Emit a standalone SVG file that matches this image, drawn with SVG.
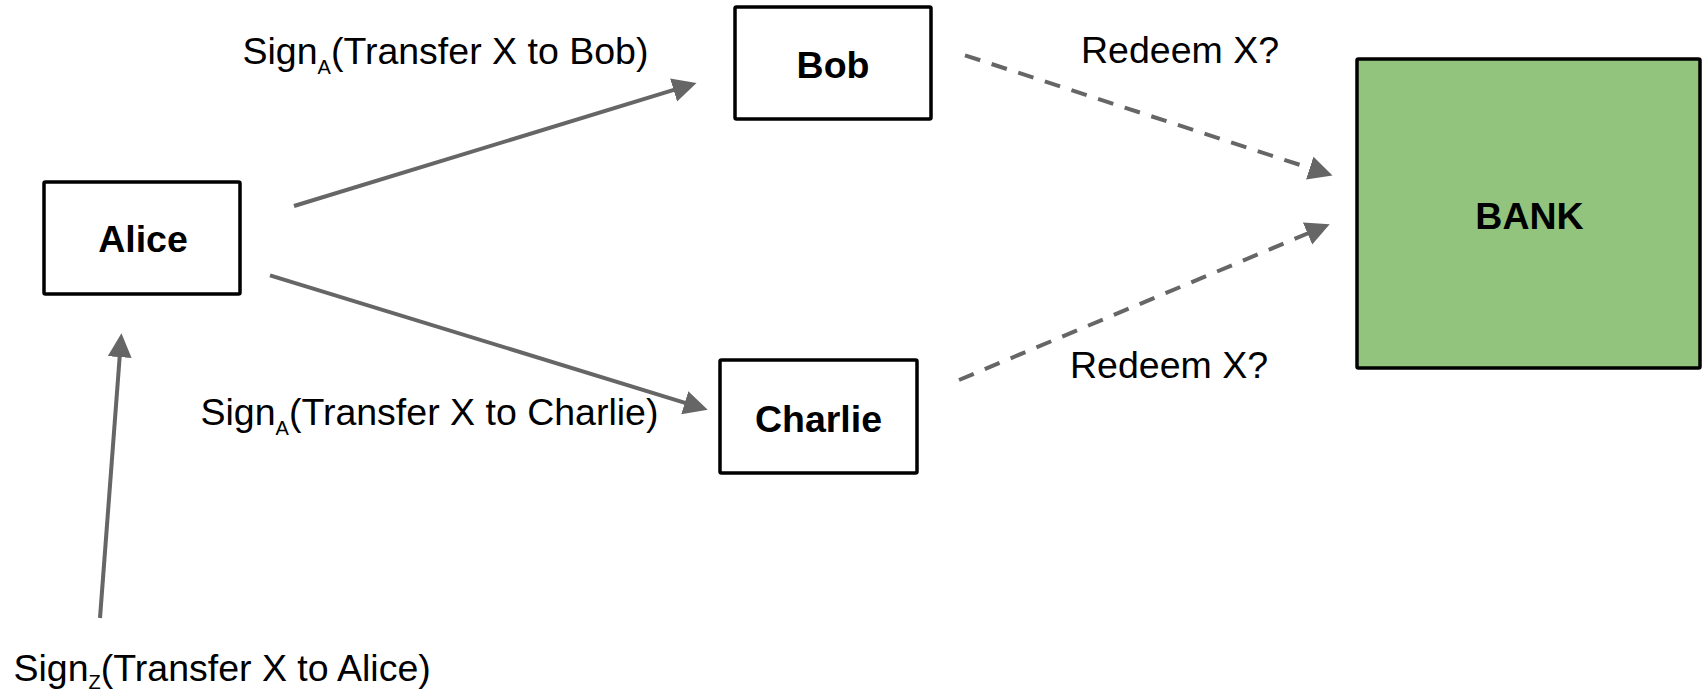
<svg xmlns="http://www.w3.org/2000/svg" width="1706" height="692" viewBox="0 0 1706 692">
<style>
.box{fill:#ffffff;stroke:#000000;stroke-width:3.5;}
.bank{fill:#93c47d;stroke:#000000;stroke-width:3.5;}
.lbl{font-family:"Liberation Sans",Arial,sans-serif;font-weight:bold;font-size:37.5px;fill:#000000;text-anchor:middle;}
.txt{font-family:"Liberation Sans",Arial,sans-serif;font-size:37.5px;fill:#000000;}
.sub{font-size:20px;}
.edge{fill:none;stroke:#666666;stroke-width:4;marker-end:url(#ah);}
.dash{stroke-dasharray:16 12;}
</style>
<defs>
<marker id="ah" markerUnits="userSpaceOnUse" markerWidth="26" markerHeight="26" refX="2" refY="12" orient="auto">
<path d="M0,0 L24,12 L0,24 Z" fill="#666666"/>
</marker>
</defs>
<rect width="1706" height="692" fill="#ffffff"/>
<g id="connectors">
<line class="edge" x1="294" y1="206" x2="675.5" y2="89.4"/>
<line class="edge" x1="270" y1="275.3" x2="686.7" y2="403.3"/>
<line class="edge" x1="100" y1="618" x2="119.8" y2="355.1"/>
<line class="edge dash" x1="965" y1="55.3" x2="1311.6" y2="168.7"/>
<line class="edge dash" x1="959" y1="380" x2="1309.4" y2="232.7"/>
</g>
<g id="alice">
<rect class="box" x="44" y="182" width="196" height="112" rx="1.5"/>
<text class="lbl" x="143" y="252">Alice</text>
</g>
<g id="bob">
<rect class="box" x="735" y="7" width="196" height="112" rx="1.5"/>
<text class="lbl" x="833" y="77.5">Bob</text>
</g>
<g id="charlie">
<rect class="box" x="720" y="360" width="197" height="113" rx="1.5"/>
<text class="lbl" x="818.5" y="431.5">Charlie</text>
</g>
<g id="bank">
<rect class="bank" x="1357" y="59" width="343" height="309" rx="1.5"/>
<text class="lbl" x="1529.5" y="228.5">BANK</text>
</g>
<g id="labels">
<text class="txt" x="242.5" y="63.5">Sign<tspan class="sub" dy="10">A</tspan><tspan dy="-10">(Transfer X to Bob)</tspan></text>
<text class="txt" x="200.5" y="425">Sign<tspan class="sub" dy="10">A</tspan><tspan dy="-10">(Transfer X to Charlie)</tspan></text>
<text class="txt" x="13.5" y="680.5">Sign<tspan class="sub" dy="8">Z</tspan><tspan dy="-8">(Transfer X to Alice)</tspan></text>
<text class="txt" x="1081" y="62.5">Redeem X?</text>
<text class="txt" x="1070" y="377.5">Redeem X?</text>
</g>
</svg>
